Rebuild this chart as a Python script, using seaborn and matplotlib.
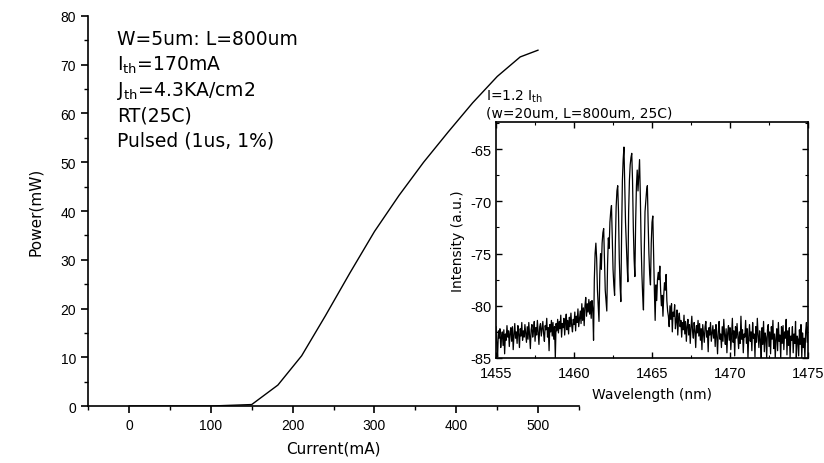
import numpy as np
import pandas as pd
import seaborn as sns
import matplotlib.pyplot as plt
from matplotlib.ticker import MultipleLocator

# L-I curve
current_ma = [0, 50, 100, 150, 182, 211, 240, 270, 300, 330, 360, 390, 420, 450, 478, 500]
power_mw = [0, 0, 0, 0.3, 4.3, 10.3, 18.5, 27.3, 35.8, 43.2, 50.0, 56.2, 62.2, 67.6, 71.6, 73.0]

# spectrum at 1.2 Ith, one row per nm (0.05 nm steps), from 1455.00 up to 1475.00
intensity = [
    -82.0, -83.6, -84.9, -82.4, -83.1, -82.2, -84.0, -83.0, -82.5, -83.8,
    -82.3, -84.6, -82.7, -83.3, -81.9, -83.0, -82.4, -83.9, -82.6, -82.1,
    -83.4, -82.0, -84.2, -82.8, -81.7, -83.1, -82.5, -83.6, -81.9, -82.7,
    -84.0, -82.2, -82.9, -81.6, -83.3, -82.4, -83.0, -81.8, -82.6, -83.5,
    -82.0, -83.2, -81.6, -82.9, -84.1, -82.3, -81.8, -83.0, -82.4, -81.5,
    -83.4, -82.1, -82.8, -81.4, -82.6, -83.7, -82.0, -81.7, -82.9, -82.2,
    -81.5, -82.7, -83.4, -81.9, -82.3, -81.2, -83.0, -82.1, -84.3, -81.8,
    -82.5, -81.4, -82.9, -81.6, -83.2, -82.0, -85.0, -81.7, -82.4, -81.3,
    -82.6, -81.5, -82.2, -80.9, -83.0, -81.7, -82.1, -81.2, -82.8, -81.6,
    -80.8, -82.3, -81.4, -82.7, -81.1, -82.0, -80.7, -81.9, -82.5, -81.3,
    -81.8, -80.6, -82.4, -81.0, -81.6, -80.3, -82.0, -81.2, -80.5, -81.7,
    -79.8, -81.4, -80.2, -81.9, -80.0, -79.2, -81.0, -79.8, -80.6, -79.4,
    # 1461
    -80.8, -79.6, -81.2, -79.5, -80.3, -83.3, -77.5, -75.0, -74.0, -75.5,
    -78.5, -80.0, -81.5, -77.0, -75.0, -76.5, -74.0, -73.0, -72.6, -75.5,
    # 1462
    -78.5, -79.5, -80.5, -76.0, -73.5, -74.5, -72.0, -71.0, -70.4, -73.5,
    -76.5, -78.0, -79.0, -74.0, -70.5, -69.0, -68.5, -71.0, -75.5, -78.0,
    # 1463
    -79.6, -73.0, -68.0, -66.0, -64.8, -68.5, -72.0, -74.0, -76.0, -77.7,
    -71.0, -68.0, -66.5, -65.8, -65.4, -68.0, -72.5, -75.5, -77.2, -72.0,
    # 1464
    -68.5, -67.0, -69.0, -67.5, -66.0, -69.5, -74.0, -77.0, -79.0, -80.4,
    -75.0, -71.0, -70.0, -69.0, -68.5, -72.0, -75.0, -77.0, -78.0, -74.0,
    # 1465
    -72.0, -71.4, -75.0, -78.5, -81.4, -78.0, -79.5, -77.5, -76.8, -77.5,
    -76.2, -78.5, -80.0, -79.0, -81.0, -79.0, -77.8, -78.5, -77.0, -79.5,
    # 1466
    -80.5, -81.0, -82.0, -80.0, -81.3, -79.8, -82.5, -80.6, -81.0, -79.9,
    -82.2, -81.5, -80.4, -82.8, -81.2, -80.7, -82.0, -81.4, -83.0, -81.6,
    # 1467
    -82.3, -80.9, -82.7, -81.5, -83.4, -82.0, -81.3, -82.8, -81.8, -83.6,
    -82.1, -81.0, -82.5, -83.1, -81.6, -82.4, -84.0, -81.9, -82.6, -81.4,
    -82.9, -81.7, -83.3, -82.2, -84.2, -81.8, -82.7, -83.5, -82.0, -81.5,
    -83.0, -82.4, -84.4, -82.1, -82.8, -81.6, -83.4, -82.6, -81.9, -83.1,
    -82.3, -83.9, -81.8, -82.9, -84.6, -82.4, -81.5, -83.2, -82.7, -84.0,
    -82.0, -83.4, -81.3, -82.8, -83.7, -82.2, -84.5, -82.6, -81.9, -83.3,
    # 1470
    -82.1, -84.2, -82.8, -81.2, -83.5, -82.4, -84.8, -82.0, -83.1, -81.7,
    -82.9, -84.1, -82.5, -83.6, -81.0, -83.2, -82.3, -84.5, -82.7, -83.0,
    -81.4, -83.6, -82.2, -85.0, -82.9, -81.8, -83.4, -82.5, -84.3, -81.6,
    -83.1, -82.7, -84.9, -82.0, -83.5, -81.2, -82.8, -84.0, -82.4, -83.3,
    -85.0, -82.1, -83.7, -81.5, -84.4, -82.6, -83.0, -85.0, -82.3, -81.8,
    -83.9, -82.5, -84.6, -82.0, -83.2, -81.4, -84.1, -82.7, -85.0, -83.1,
    -82.2, -84.3, -81.6, -83.4, -82.8, -85.0, -82.0, -83.6, -81.9, -84.2,
    -82.5, -83.1, -81.3, -84.7, -82.4, -83.8, -82.1, -85.0, -82.9, -83.3,
    -82.0, -84.5, -82.7, -83.6, -81.5, -85.0, -82.9, -83.2, -84.8, -82.3,
    -83.7, -81.8, -85.0, -82.6, -84.0, -83.1, -85.0, -82.4, -81.6, -83.5,
    # 1475.00
    -82.0,
]
wavelength_nm = 1455.0 + 0.05 * np.arange(len(intensity))

info_lines = [
    "W=5um: L=800um",
    r"$\mathregular{I_{th}}$=170mA",
    r"$\mathregular{J_{th}}$=4.3KA/cm2",
    "RT(25C)",
    "Pulsed (1us, 1%)",
]

sns.set_theme(style="ticks")
plt.rcParams["font.family"] = ["DejaVu Sans"]
plt.rcParams["mathtext.fontset"] = "dejavusans"
plt.rcParams["axes.unicode_minus"] = False
tick_font = "Liberation Sans"

fig = plt.figure(figsize=(8.24, 4.64), dpi=100)
fig.patch.set_facecolor("white")

# main L-I plot
ax = fig.add_axes([0.1068, 0.1228, 0.596, 0.8406])
li = pd.DataFrame({"current": current_ma, "power": power_mw})
sns.lineplot(data=li, x="current", y="power", ax=ax, color="black", linewidth=1.0)
ax.set_xlim(-50, 550)
ax.set_ylim(0, 80)
ax.xaxis.set_major_locator(MultipleLocator(100))
ax.xaxis.set_minor_locator(MultipleLocator(50))
ax.yaxis.set_major_locator(MultipleLocator(10))
ax.yaxis.set_minor_locator(MultipleLocator(5))
ax.tick_params(which="major", direction="out", length=5, width=1.2, colors="black", labelsize=10)
ax.tick_params(which="minor", direction="out", length=3, width=1.0, colors="black")
for lab in ax.get_xticklabels() + ax.get_yticklabels():
    lab.set_fontfamily(tick_font)
sns.despine(ax=ax)
for s in ["left", "bottom"]:
    ax.spines[s].set_linewidth(1.2)
    ax.spines[s].set_color("black")
ax.set_xlabel("Current(mA)", fontsize=11, labelpad=6, color="black")
ax.set_ylabel("Power(mW)", fontsize=11, labelpad=13, color="black")
ax.set_facecolor("white")

for i, line in enumerate(info_lines):
    ax.text(0.059, 0.941 - i * 0.0649, line, transform=ax.transAxes, fontsize=13.5,
            va="center", ha="left", color="black")

# inset spectrum
ins = fig.add_axes([0.602, 0.2263, 0.3786, 0.5086])
spec = pd.DataFrame({"wl": wavelength_nm, "I": intensity})
sns.lineplot(data=spec, x="wl", y="I", ax=ins, color="black", linewidth=0.9)
ins.set_xlim(1455, 1475)
ins.set_ylim(-85, -62.4)
ins.xaxis.set_major_locator(MultipleLocator(5))
ins.xaxis.set_minor_locator(MultipleLocator(2.5))
ins.yaxis.set_major_locator(MultipleLocator(5))
ins.yaxis.set_minor_locator(MultipleLocator(2.5))
ins.tick_params(which="both", direction="in", top=True, right=True, colors="black")
ins.tick_params(which="major", length=4, width=1.0, labelsize=10.5)
ins.tick_params(axis="x", which="major", pad=6)
ins.tick_params(axis="y", which="major", pad=3)
ins.tick_params(which="minor", length=2, width=0.8)
ins.set_yticks([-65, -70, -75, -80, -85])
for lab in ins.get_xticklabels() + ins.get_yticklabels():
    lab.set_fontfamily(tick_font)
for s in ins.spines.values():
    s.set_linewidth(1.2)
    s.set_color("black")
ins.set_xlabel("Wavelength (nm)", fontsize=10, labelpad=5, color="black")
ins.set_ylabel("Intensity (a.u.)", fontsize=10, labelpad=4, color="black")
ins.set_facecolor("white")

fig.text(486 / 824, 1 - 97 / 464, r"I=1.2 $\mathregular{I_{th}}$", fontsize=10,
         va="center", ha="left", color="black")
fig.text(486 / 824, 1 - 114 / 464, "(w=20um, L=800um, 25C)", fontsize=10,
         va="center", ha="left", color="black")

fig.savefig("out.png", dpi=100, facecolor="white")
